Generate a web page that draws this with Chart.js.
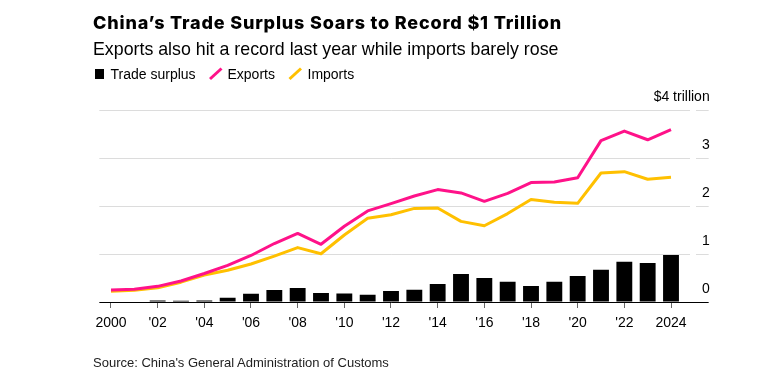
<!DOCTYPE html>
<html><head><meta charset="utf-8">
<script src="https://cdn.jsdelivr.net/npm/chart.js@4/dist/chart.umd.min.js"></script>
<style>
html,body{margin:0;padding:0;background:#fff;width:766px;height:383px;overflow:hidden;}
#wrap{position:relative;width:766px;height:383px;}
#c{position:absolute;left:0;top:0;}
.t{position:absolute;white-space:nowrap;color:#000;font-family:"Liberation Sans",Arial,sans-serif;}
#title{left:93px;top:14px;font-family:Inter,"Liberation Sans",sans-serif;font-weight:800;font-size:18px;line-height:18px;}
#sub{left:93px;top:41px;font-size:17.8px;line-height:17.8px;}
.lg{top:67.2px;font-size:14px;line-height:14px;}
#src{left:93px;top:356.3px;font-size:13px;line-height:13px;color:#222;}
#sq{position:absolute;left:95px;top:69.3px;width:9.4px;height:9.4px;background:#000;}
svg{position:absolute;left:0;top:0;}
</style></head>
<body><div id="wrap">
<canvas id="c" width="766" height="383"></canvas>
<div class="t" id="title">China’s Trade Surplus Soars to Record $1 Trillion</div>
<div class="t" id="sub">Exports also hit a record last year while imports barely rose</div>
<div id="sq"></div>
<div class="t lg" style="left:110.5px">Trade surplus</div>
<svg width="766" height="100"><line x1="210" y1="79" x2="221.5" y2="68.5" stroke="#ff1289" stroke-width="3"/><line x1="289.5" y1="79" x2="301" y2="68.5" stroke="#ffc000" stroke-width="3"/></svg>
<div class="t lg" style="left:227.5px">Exports</div>
<div class="t lg" style="left:307.5px">Imports</div>
<div class="t" id="src">Source: China's General Administration of Customs</div>
</div>
<script>
const years = [2000,2001,2002,2003,2004,2005,2006,2007,2008,2009,2010,2011,2012,2013,2014,2015,2016,2017,2018,2019,2020,2021,2022,2023,2024];
const surplus = [0.008,0.008,0.03,0.025,0.032,0.09,0.17,0.25,0.29,0.19,0.175,0.15,0.23,0.255,0.375,0.585,0.5,0.42,0.335,0.42,0.54,0.67,0.84,0.815,0.98];
const exportsV = [0.249,0.266,0.326,0.438,0.593,0.762,0.969,1.218,1.429,1.202,1.578,1.898,2.049,2.209,2.342,2.273,2.098,2.263,2.487,2.499,2.590,3.362,3.560,3.380,3.590];
const importsV = [0.225,0.244,0.295,0.413,0.561,0.660,0.792,0.956,1.133,1.006,1.396,1.743,1.818,1.950,1.959,1.680,1.588,1.842,2.136,2.078,2.056,2.688,2.716,2.557,2.597];
const xTickLabels = ['2000',"'02","'04","'06","'08","'10","'12","'14","'16","'18","'20","'22",'2024'];
const yTickValues = [0,1,2,3,4];
const yTickLabels = ['0','1','2','3','$4 trillion'];

const PINK = '#ff1289', YELLOW = '#ffc000';
const FONT = '"Liberation Sans", Arial, sans-serif';
Chart.defaults.font.family = FONT;

// fit title width to reference
(function(){
  const el = document.getElementById('title');
  const w = el.getBoundingClientRect().width;
  const n = el.textContent.length;
  el.style.letterSpacing = ((469 - w) / n) + 'px';
})();

const TARGET = {left: 99.33, right: 682.67, top: 110, bottom: 302};
const gc = c => (c.tick && c.tick.value === 0) ? '#000' : '#dcdcdc';

const chart = new Chart(document.getElementById('c'), {
  type: 'bar',
  data: {
    labels: years.map(String),
    datasets: [
      {type:'line', label:'Exports', data: exportsV, borderColor: PINK, backgroundColor: PINK, borderWidth: 3, pointRadius: 0, tension: 0, borderJoinStyle: 'round', order: 0},
      {type:'line', label:'Imports', data: importsV, borderColor: YELLOW, backgroundColor: YELLOW, borderWidth: 3, pointRadius: 0, tension: 0, borderJoinStyle: 'round', order: 1},
      {type:'bar', label:'Trade surplus', data: surplus, backgroundColor: '#000', borderWidth: 0, barPercentage: 0.68, categoryPercentage: 1, order: 2}
    ]
  },
  options: {
    responsive: false, animation: false, events: [],
    layout: {padding: {left: 99, right: 57, top: 100, bottom: 40}},
    plugins: {legend: {display: false}, tooltip: {enabled: false}, title: {display: false}},
    scales: {
      x: {
        offset: true,
        grid: {display: true, offset: false, drawOnChartArea: false, drawTicks: true, tickLength: 6, tickColor: '#666', tickWidth: 1},
        border: {display: false},
        afterBuildTicks: s => { s.ticks = s.ticks.filter(t => t.value % 2 === 0); },
        ticks: {autoSkip: false, maxRotation: 0, minRotation: 0, padding: 7, color: '#000', font: {size: 14, family: FONT},
          callback: (v, i) => xTickLabels[i]}
      },
      y: {
        position: 'right', min: 0, max: 4,
        afterBuildTicks: s => { s.ticks = yTickValues.map(v => ({value: v})); },
        grid: {color: gc, lineWidth: 1, drawTicks: true, tickLength: 26, tickColor: gc, tickWidth: 1,
          tickBorderDash: c => (c.tick && c.tick.value === 0) ? [] : [7, 6, 13, 100]},
        border: {display: false},
        ticks: {mirror: true, crossAlign: 'near', padding: 27, labelOffset: -13, color: '#000', font: {size: 14, family: FONT},
          callback: (v, i) => yTickLabels[i]}
      }
    }
  }
});

for (let k = 0; k < 3; k++) {
  const a = chart.chartArea, p = chart.options.layout.padding;
  p.left += TARGET.left - a.left;
  p.right += a.right - TARGET.right;
  p.top += TARGET.top - a.top;
  p.bottom += a.bottom - TARGET.bottom;
  chart.update('none');
}
</script>
</body></html>
